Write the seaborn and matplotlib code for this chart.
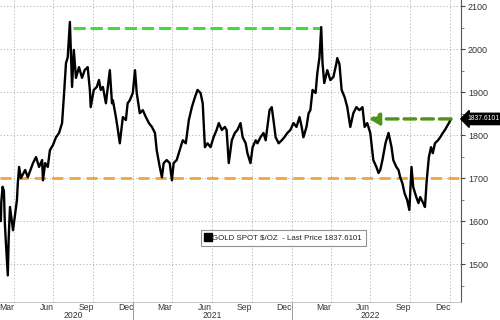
import matplotlib
matplotlib.use("Agg")
import matplotlib.pyplot as plt
import matplotlib.dates as mdates
from matplotlib.lines import Line2D
import seaborn as sns
import pandas as pd

dates = [
    "2020-03-02", "2020-03-03", "2020-03-06", "2020-03-09", "2020-03-11", "2020-03-13",
    "2020-03-16", "2020-03-18", "2020-03-20", "2020-03-23", "2020-03-26", "2020-03-30",
    "2020-04-03", "2020-04-08", "2020-04-10", "2020-04-13", "2020-04-17", "2020-04-27",
    "2020-05-03", "2020-05-15", "2020-05-22", "2020-05-29", "2020-06-05", "2020-06-07",
    "2020-06-12", "2020-06-18", "2020-06-23", "2020-06-30", "2020-07-07", "2020-07-14",
    "2020-07-21", "2020-07-25", "2020-07-30", "2020-08-03", "2020-08-08", "2020-08-13",
    "2020-08-17", "2020-08-22", "2020-08-29", "2020-09-05", "2020-09-11", "2020-09-18",
    "2020-09-23", "2020-09-25", "2020-10-02", "2020-10-09", "2020-10-14", "2020-10-18",
    "2020-10-23", "2020-10-30", "2020-11-08", "2020-11-13", "2020-11-15", "2020-11-22",
    "2020-11-26", "2020-12-01", "2020-12-08", "2020-12-15", "2020-12-19", "2020-12-24",
    "2020-12-31", "2021-01-05", "2021-01-09", "2021-01-16", "2021-01-23", "2021-01-30",
    "2021-02-06", "2021-02-13", "2021-02-20", "2021-02-24", "2021-03-03", "2021-03-08",
    "2021-03-12", "2021-03-19", "2021-03-26", "2021-03-31", "2021-04-04", "2021-04-11",
    "2021-04-18", "2021-04-25", "2021-05-02", "2021-05-09", "2021-05-16", "2021-05-23",
    "2021-05-29", "2021-06-05", "2021-06-10", "2021-06-15", "2021-06-21", "2021-06-28",
    "2021-07-05", "2021-07-12", "2021-07-17", "2021-07-24", "2021-07-31", "2021-08-04",
    "2021-08-09", "2021-08-16", "2021-08-23", "2021-08-29", "2021-09-05", "2021-09-10",
    "2021-09-17", "2021-09-21", "2021-09-28", "2021-10-03", "2021-10-10", "2021-10-14",
    "2021-10-21", "2021-10-28", "2021-11-02", "2021-11-06", "2021-11-11", "2021-11-16",
    "2021-11-20", "2021-11-25", "2021-12-02", "2021-12-09", "2021-12-15", "2021-12-22",
    "2021-12-29", "2022-01-05", "2022-01-12", "2022-01-19", "2022-01-24", "2022-01-28",
    "2022-02-04", "2022-02-09", "2022-02-13", "2022-02-18", "2022-02-25", "2022-03-01",
    "2022-03-06", "2022-03-10", "2022-03-13", "2022-03-17", "2022-03-24", "2022-03-31",
    "2022-04-07", "2022-04-14", "2022-04-16", "2022-04-21", "2022-04-26", "2022-05-03",
    "2022-05-09", "2022-05-16", "2022-05-23", "2022-05-30", "2022-06-06", "2022-06-13",
    "2022-06-18", "2022-06-24", "2022-07-01", "2022-07-08", "2022-07-15", "2022-07-20",
    "2022-07-24", "2022-07-29", "2022-08-05", "2022-08-12", "2022-08-19", "2022-08-23",
    "2022-08-30", "2022-09-04", "2022-09-08", "2022-09-13", "2022-09-18", "2022-09-24",
    "2022-09-29", "2022-10-04", "2022-10-08", "2022-10-15", "2022-10-20", "2022-10-24",
    "2022-10-31", "2022-11-04", "2022-11-08", "2022-11-13", "2022-11-18", "2022-11-22",
    "2022-11-27", "2022-12-04", "2022-12-09", "2022-12-15", "2022-12-20", "2022-12-24",
    "2022-12-29", "2023-01-03",
]
prices = [
    1600, 1645, 1680, 1670, 1600, 1560,
    1510, 1474, 1560, 1633, 1610, 1579,
    1610, 1649, 1688, 1726, 1700, 1719,
    1702, 1735, 1749, 1726, 1742, 1695,
    1735, 1726, 1765, 1777, 1795, 1805,
    1828, 1888, 1967, 1981, 2063, 1912,
    1998, 1933, 1958, 1933, 1951, 1958,
    1905, 1865, 1905, 1912, 1928, 1905,
    1912, 1874, 1951, 1874, 1881, 1842,
    1816, 1781, 1842, 1835, 1874, 1881,
    1898, 1951, 1898, 1851, 1858, 1842,
    1828, 1819, 1805, 1765, 1726, 1702,
    1735, 1742, 1735, 1695, 1735, 1742,
    1765, 1788, 1781, 1835, 1865, 1888,
    1905, 1898, 1874, 1772, 1781, 1772,
    1795, 1812, 1828, 1812, 1819, 1812,
    1735, 1788, 1805, 1812, 1828, 1795,
    1781, 1758, 1735, 1772, 1788, 1781,
    1795, 1805, 1788, 1819, 1858, 1865,
    1835, 1795, 1781, 1788, 1795, 1805,
    1812, 1828, 1819, 1842, 1819, 1795,
    1819, 1851, 1858, 1905, 1898, 1944,
    1981, 2051, 1967, 1921, 1951, 1928,
    1935, 1967, 1979, 1965, 1905, 1888,
    1865, 1819, 1851, 1865, 1858, 1865,
    1819, 1828, 1805, 1742, 1726, 1712,
    1719, 1742, 1781, 1805, 1772, 1742,
    1726, 1719, 1702, 1688, 1665, 1649,
    1626, 1726, 1679, 1656, 1642, 1656,
    1642, 1633, 1695, 1749, 1772, 1758,
    1781, 1788, 1795, 1805, 1812, 1819,
    1828, 1837.6101,
]

series_name = "GOLD SPOT $/OZ"
last_price = 1837.6101
high_level = 2050
high_start, high_end = "2020-08-15", "2022-03-10"
support_level = 1700
month_labels = ["Mar", "Jun", "Sep", "Dec"]
years = ["2020", "2021", "2022"]

df = pd.DataFrame({"date": pd.to_datetime(dates), "price": prices})

sns.set_style("white")
plt.rcParams["font.family"] = ["Liberation Sans", "DejaVu Sans"]

fig = plt.figure(figsize=(5.0, 3.2), dpi=100)
ax = fig.add_axes([0.0, 0.056, 0.922, 0.944])

# reference lines
ax.axhline(support_level, color="#f2a53a", lw=2.0, dashes=(4, 2.2), zorder=2)
ax.plot(pd.to_datetime([high_start, high_end]), [high_level, high_level],
        color="#3fdc3f", lw=2.2, dashes=(4, 1.6), zorder=2)

sns.lineplot(data=df, x="date", y="price", ax=ax, color="black", lw=1.7,
             zorder=3, legend=False)

# dark green arrow toward last price
ax.annotate("", xy=(pd.Timestamp("2022-06-28"), last_price),
            xytext=(pd.Timestamp(dates[-1]), last_price),
            arrowprops=dict(arrowstyle="-|>,head_length=0.6,head_width=0.35",
                            color="#4e9418", lw=2.4, linestyle=(0, (3.5, 1.8)),
                            shrinkA=0, shrinkB=0), zorder=4)

ax.set_xlim(pd.Timestamp("2020-02-29"), pd.Timestamp("2023-01-26"))
ax.set_ylim(1412, 2114)

# y axis on right
ax.yaxis.tick_right()
ax.set_yticks(range(1500, 2101, 100))
ax.set_yticks(range(1450, 2101, 50), minor=True)
ax.tick_params(axis="y", which="major", length=3, width=0.8, color="#444",
               labelsize=6.5, labelcolor="#333", pad=2, direction="out")
ax.tick_params(axis="y", which="minor", length=2, width=0.6, color="#666",
               direction="out")

# x axis: gridlines at quarter starts, labels mid month
qstarts = pd.date_range("2020-04-01", "2023-01-01", freq="QS")
ax.set_xticks(qstarts)
ax.set_xticklabels([])
lab_dates = []
lab_text = []
for y in [2020, 2021, 2022]:
    for m, t in zip([3, 6, 9, 12], month_labels):
        lab_dates.append(pd.Timestamp(y, m, 15))
        lab_text.append(t)
ax.set_xticks(lab_dates, minor=True)
ax.set_xticklabels(lab_text, minor=True)
ax.tick_params(axis="x", which="major", length=2, color="#888", width=0.6)
ax.tick_params(axis="x", which="minor", length=0, labelsize=6.2,
               labelcolor="#333", pad=1)

ax.grid(True, which="major", color="#b5b5b5", lw=0.7, linestyle=(0, (1.2, 2.2)))
ax.set_xlabel("")
ax.set_ylabel("")

for s in ["left", "top"]:
    ax.spines[s].set_visible(False)
ax.spines["right"].set_color("#555")
ax.spines["right"].set_linewidth(0.8)
ax.spines["bottom"].set_color("#bbb")
ax.spines["bottom"].set_linewidth(0.6)

# year labels and separators
trans = ax.get_xaxis_transform()
year_mids = ["2020-08-15", "2021-07-02", "2022-07-02"]
for yl, mid in zip(years, year_mids):
    ax.text(pd.Timestamp(mid), -0.046, yl, transform=trans, ha="center",
            va="center", fontsize=6.2, color="#333")
for sep in ["2021-01-01", "2022-01-01"]:
    ax.plot([pd.Timestamp(sep)] * 2, [0, -0.07], transform=trans,
            color="#999", lw=0.7, clip_on=False)

# last price tag
ax.annotate(f"{last_price:.4f}", xy=(1.0, last_price),
            xycoords=ax.get_yaxis_transform(), xytext=(1.013, last_price),
            textcoords=ax.get_yaxis_transform(), ha="left", va="center",
            fontsize=4.9, color="white",
            bbox=dict(boxstyle="larrow,pad=0.32", fc="black", ec="black"),
            annotation_clip=False, zorder=6)

# legend
handle = Line2D([], [], color="black", marker="s", lw=0, markersize=5.5)
leg = ax.legend([handle], [f"{series_name}  - Last Price {last_price:.4f}"],
                loc="center", bbox_to_anchor=(0.615, 0.212), fontsize=5.7,
                frameon=True, fancybox=False, handlelength=0.6,
                handletextpad=0.3, borderpad=0.5, labelcolor="#222")
leg.get_frame().set_edgecolor("#777")
leg.get_frame().set_linewidth(0.8)

fig.savefig("out.png", dpi=100, facecolor="white")
